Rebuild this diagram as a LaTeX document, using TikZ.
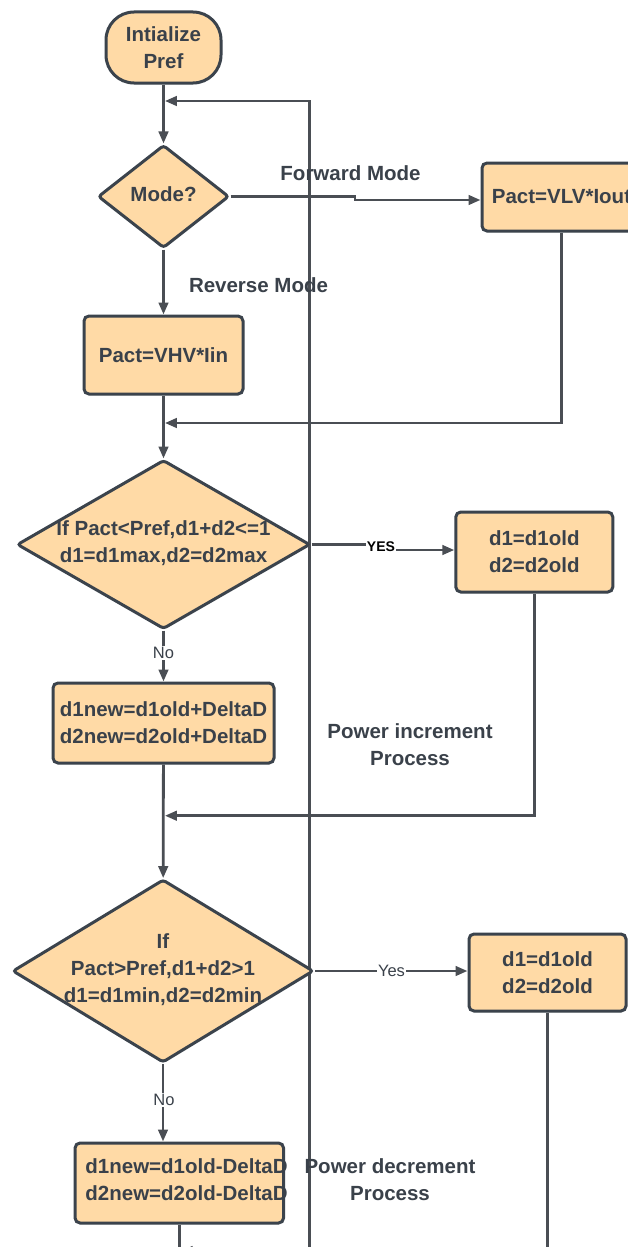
\documentclass[tikz,border=0pt]{standalone}
\usepackage{fontspec}
\setmainfont{Liberation Sans}
\usetikzlibrary{shapes.geometric,arrows.meta,shadows,calc}
\definecolor{nfill}{HTML}{FFDAA6}
\definecolor{ndraw}{HTML}{3B434C}
\definecolor{ltext}{HTML}{3A414A}
\definecolor{lline}{HTML}{4A4E54}
\pgfdeclarelayer{background}
\pgfsetlayers{background,main}
\begin{document}
\begin{tikzpicture}[x=1pt,y=-1pt,
  every node/.style={text=ltext},
  nshadow/.style={drop shadow={opacity=0.15,shadow xshift=0.8pt,shadow yshift=-1.5pt}},
  box/.style={draw=ndraw,fill=nfill,line width=3pt,rounded corners=5pt,inner sep=0pt,align=center,font=\fontsize{20.5}{27}\selectfont\bfseries,nshadow},
  dia/.style={draw=ndraw,fill=nfill,line width=3pt,diamond,inner sep=0pt,rounded corners=3pt,nshadow},
  dtxt/.style={align=center,font=\fontsize{20.5}{27}\selectfont\bfseries},
  lab/.style={font=\fontsize{20.5}{27}\selectfont\bfseries,align=center},
  conn/.style={draw=lline,line width=2.8pt},
  arr/.style={conn,-{Triangle[length=12pt,width=9.5pt]}},
  small/.style={font=\fontsize{16.5}{18}\selectfont,fill=white,inner sep=1pt},
]
\useasboundingbox (0,0) rectangle (628,1247);
\begin{pgfonlayer}{background}
\fill[white] (0,0) rectangle (628,1247);
\end{pgfonlayer}

% nodes
\node[box,rounded corners=28pt,minimum width=115pt,minimum height=71pt] (start) at (163.5,47.5) {Intialize\\Pref};
\node[dia,minimum width=131pt,minimum height=103pt] (mode) at (163.5,196.5) {};
\node[dtxt] (modet) at (163.5,194) {Mode?};
\node[box,minimum width=159pt,minimum height=68pt] (fwd) at (561.5,197) {Pact=VLV*Iout};
\node[box,minimum width=159pt,minimum height=78pt] (vhv) at (163.5,355) {Pact=VHV*Iin};
\node[dia,minimum width=293pt,minimum height=169pt] (d2) at (163.5,544.5) {};
\node[dtxt] (d2t) at (163.5,543) {If Pact<Pref,d1+d2<=1\\d1=d1max,d2=d2max};
\node[box,minimum width=157pt,minimum height=80pt] (y1) at (534.3,552) {d1=d1old\\d2=d2old};
\node[box,minimum width=221pt,minimum height=80pt] (inc) at (163.5,723) {d1new=d1old+DeltaD\\d2new=d2old+DeltaD};
\node[dia,minimum width=301pt,minimum height=183pt] (d3) at (163,971) {};
\node[dtxt] (d3t) at (163,969.5) {If\\Pact>Pref,d1+d2>1\\d1=d1min,d2=d2min};
\node[box,minimum width=157pt,minimum height=77pt] (y2) at (547.5,972.5) {d1=d1old\\d2=d2old};
\node[box,minimum width=208.5pt,minimum height=80pt] (dec) at (179.3,1183) {};
\node[dtxt] (dect) at (186.5,1180) {d1new=d1old-DeltaD\\d2new=d2old-DeltaD};

% free labels
\node[lab] (lfwd) at (350.5,173) {Forward Mode};
\node[lab] (lrev) at (258.5,285) {Reverse Mode};
\node[lab] (linc) at (410,745) {Power increment\\Process};
\node[lab] (ldec) at (390,1180) {Power decrement\\Process};
\node[font=\fontsize{14}{16}\selectfont\bfseries,text=black,fill=white,inner sep=0.5pt] (yes1) at (381,547) {YES};
\node[small] (no1) at (163.5,653) {No};
\node[small] (yes2) at (391.5,971) {Yes};
\node[small] (no2) at (164,1100) {No};

% connectors
\coordinate (fbB) at (309.5,1262);
\coordinate (fbT) at (309.5,101);
\coordinate (fbE) at (164.9,101);
\coordinate (j1) at (164.9,423);
\coordinate (j2) at (164.9,815.7);
\coordinate (j3) at (180.7,1251);
\coordinate (decB) at (179.3,1262);
\begin{pgfonlayer}{background}
\draw[arr] (fbB) -- (fbT) -- (fbE);
\draw[arr] (start) -- (mode);
\draw[arr] (mode.east) -- (355,196.5) -- (355,200) -- ([yshift=-3pt]fwd.west);
\draw[arr] (mode) -- (vhv);
\draw[arr] (vhv) -- (d2);
\draw[arr] (fwd.south) |- (j1);
\draw[conn] (d2.east) -- (yes1.west |- d2.east);
\draw[arr] ([yshift=-3pt]yes1.east) -- ([yshift=2pt]y1.west);
\draw[arr] (y1.south) |- (j2);
\draw[arr] (d2) -- (inc);
\draw[arr] (inc) -- (d3);
\draw[arr] (d3.east) -- (d3.east -| y2.west);
\draw[arr] (y2.south) |- (j3);
\draw[arr] (d3.south) -- (d3.south |- dec.north);
\draw[conn] (dec.south) -- (decB);
\end{pgfonlayer}
\end{tikzpicture}
\end{document}
